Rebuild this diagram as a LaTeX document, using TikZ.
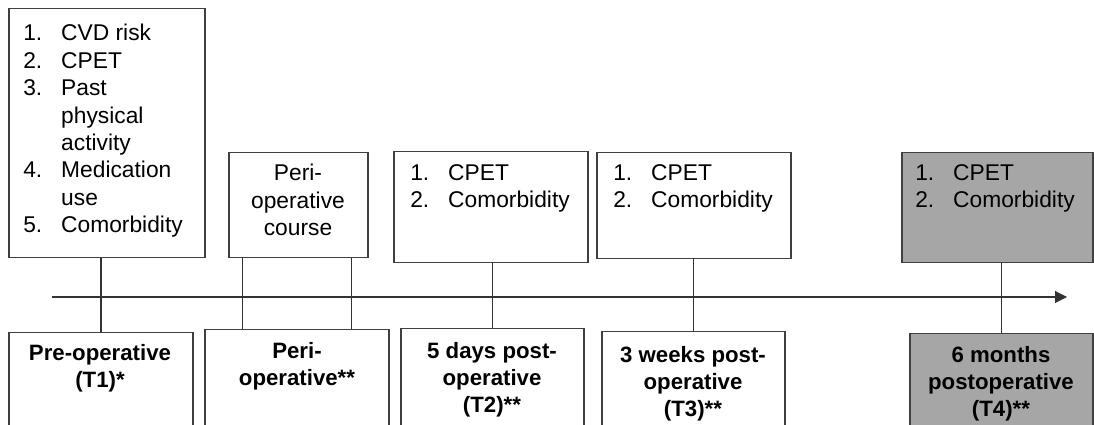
\documentclass[tikz,border=0pt]{standalone}
\usepackage{fontspec}
\setmainfont{Liberation Sans}
\usetikzlibrary{arrows.meta, positioning}
\definecolor{boxgray}{RGB}{166,166,166}
\newcommand{\nr}[1]{\makebox[27pt][l]{#1}}

\begin{document}
\begin{tikzpicture}[
    x=0.025cm, y=-0.025cm,
    slot/.style={draw=black!75, line width=0.9pt, rectangle, fill=white, anchor=north},
    lst/.style={anchor=north west, inner sep=0pt, align=left, font=\fontsize{16.2}{19.5}\selectfont},
    lbl/.style={anchor=north, inner sep=0pt, align=center, font=\fontsize{16.2}{19.5}\selectfont},
    tpt/.style={lbl, font=\fontsize{15.8}{19.3}\selectfont\bfseries},
    link/.style={draw=black!80, line width=0.75pt},
]
\useasboundingbox (0,0) rectangle (1094,425);
\clip (0,0) rectangle (1094,425);

% Time axis
\coordinate (t0) at (52,297);
\coordinate (t1) at (1067,297);
\draw[link, -{Triangle[length=8.5pt, width=8.5pt]}] (t0) -- (t1);

% Upper boxes (what is measured)
\node[slot, minimum width=4.9cm, minimum height=6.225cm] (preT) at (107,8) {};
\node[slot, minimum width=3.475cm, minimum height=2.625cm] (periT) at (298.5,152) {};
\node[slot, minimum width=4.85cm, minimum height=2.775cm] (dayT) at (491,151) {};
\node[slot, minimum width=4.85cm, minimum height=2.65cm] (weekT) at (694,152) {};
\node[slot, fill=boxgray, minimum width=4.775cm, minimum height=2.75cm] (monthT) at (997.5,152) {};

% Lower boxes (time points)
\node[slot, minimum width=4.6cm, minimum height=3cm] (preB) at (101,332) {};
\node[slot, minimum width=4.6cm, minimum height=3cm] (periB) at (297,329) {};
\node[slot, minimum width=4.575cm, minimum height=3cm] (dayB) at (492.5,328) {};
\node[slot, minimum width=4.575cm, minimum height=3cm] (weekB) at (693.5,331) {};
\node[slot, fill=boxgray, minimum width=4.575cm, minimum height=3cm] (monthB) at (1001.5,333) {};

% Vertical connectors
\draw[link] (preB.north) -- (preB.north |- preT.south);
\draw[link] ([xshift=-1.36cm]periB.north) -- ([xshift=-1.36cm]periB.north |- periT.south);
\draw[link] ([xshift=1.36cm]periB.north) -- ([xshift=1.36cm]periB.north |- periT.south);
\draw[link] (dayB.north) -- (dayB.north |- dayT.south);
\draw[link] (weekB.north) -- (weekB.north |- weekT.south);
\draw[link] (monthB.north) -- (monthB.north |- monthT.south);

% Upper texts
\node[lst] (preTx) at (23,24) {\nr{1.}CVD risk\\ \nr{2.}CPET\\ \nr{3.}Past\\ \nr{}physical\\ \nr{}activity\\ \nr{4.}Medication\\ \nr{}use\\ \nr{5.}Comorbidity};
\node[lbl] (periTx) at (298,164) {Peri-\\operative\\course};
\node[lst] (dayTx) at (410,164) {\nr{1.}CPET\\ \nr{2.}Comorbidity};
\node[lst] (weekTx) at (613,164) {\nr{1.}CPET\\ \nr{2.}Comorbidity};
\node[lst] (monthTx) at (915,164) {\nr{1.}CPET\\ \nr{2.}Comorbidity};

% Lower texts
\node[tpt] (preBx) at (100,344) {Pre-operative\\(T1)*};
\node[tpt] (periBx) at (297,342) {Peri-\\operative**};
\node[tpt] (dayBx) at (492,342) {5 days post-\\operative\\(T2)**};
\node[tpt] (weekBx) at (693,346) {3 weeks post-\\operative\\(T3)**};
\node[tpt] (monthBx) at (1001,346) {6 months\\postoperative\\(T4)**};

\end{tikzpicture}
\end{document}
